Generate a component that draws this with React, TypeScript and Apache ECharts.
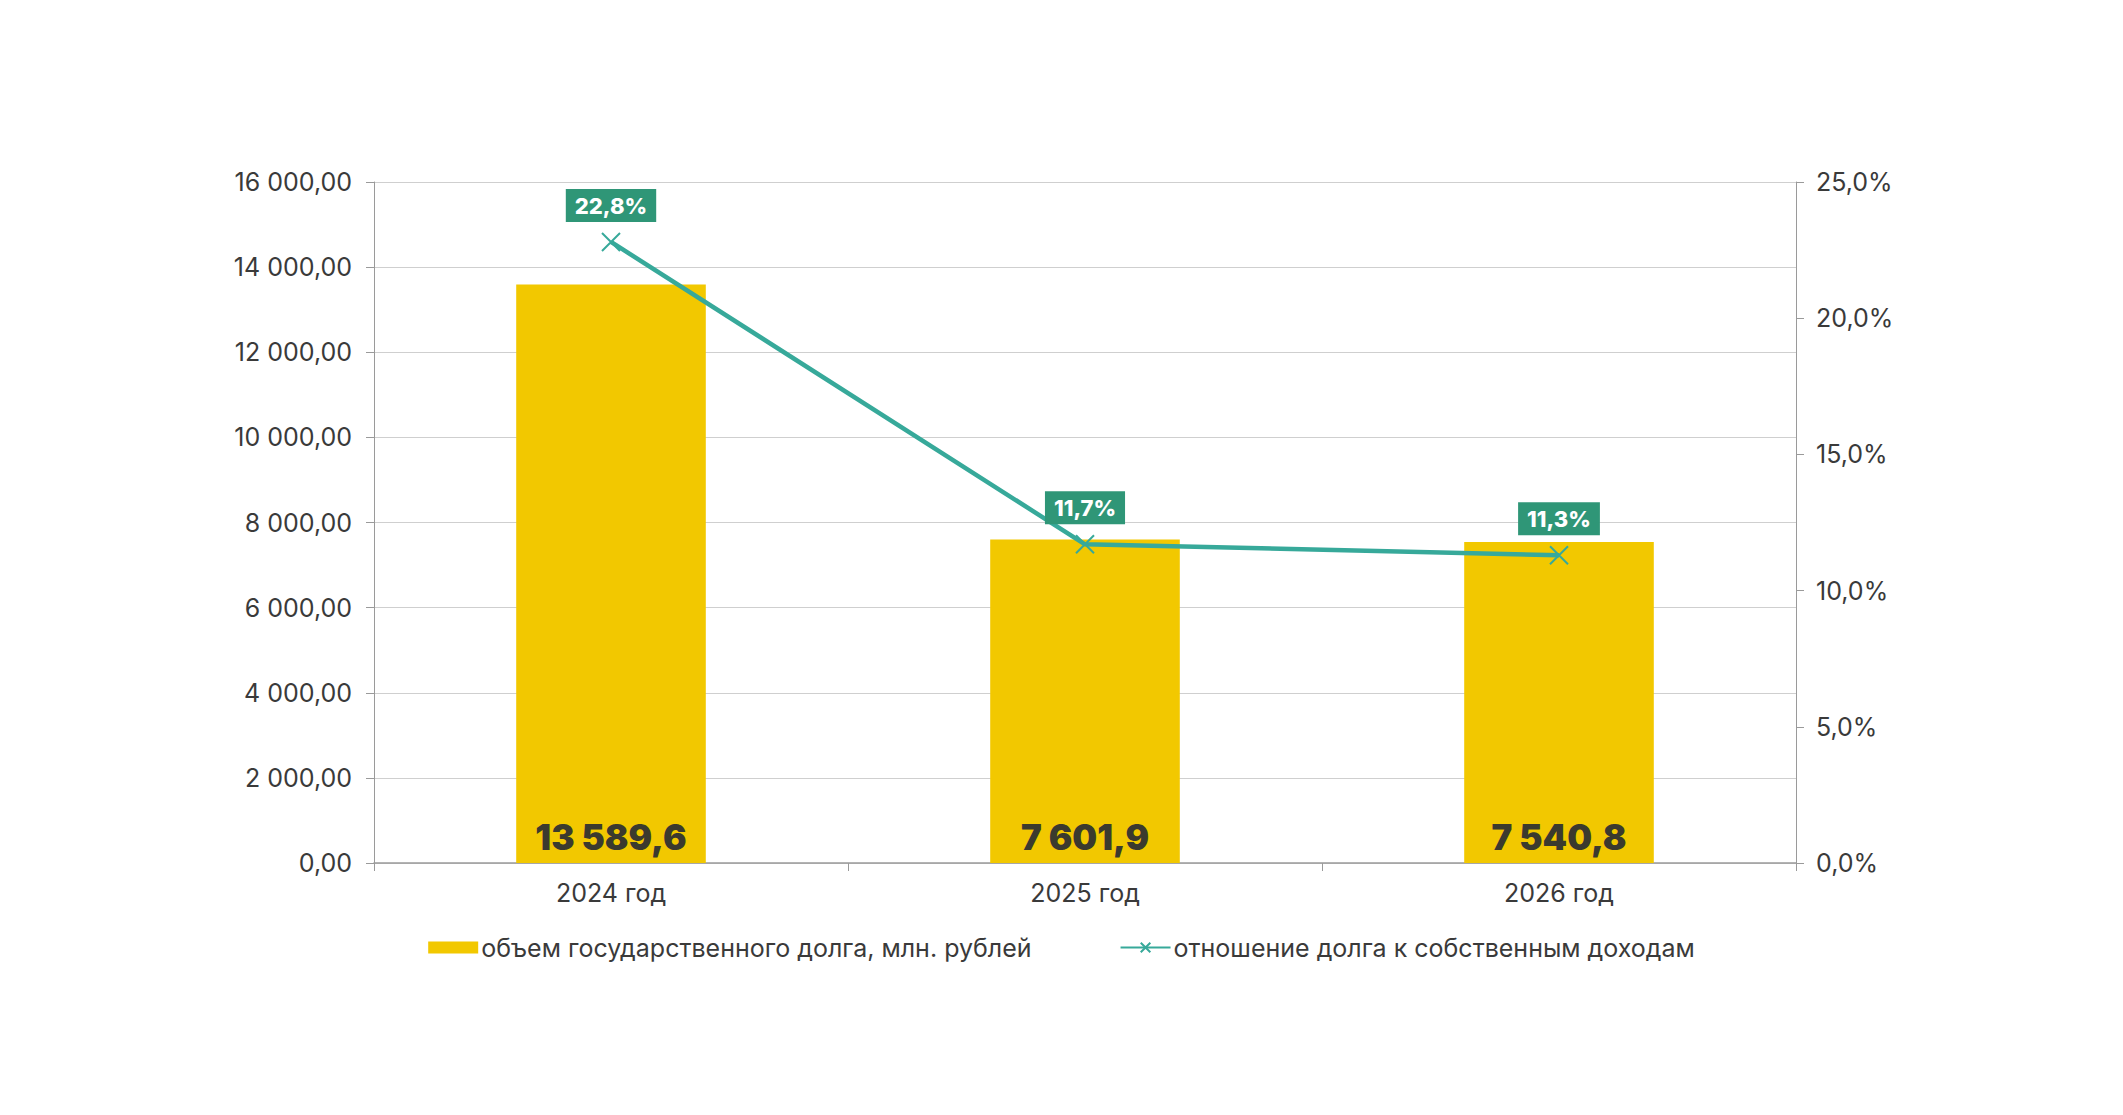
import React, { useEffect, useRef } from "react";
import * as echarts from "echarts";

const categories = ["2024 год", "2025 год", "2026 год"];
const debtValues = [13589.6, 7601.9, 7540.8];
const ratioValues = [22.8, 11.7, 11.3];

const debtName = "объем государственного долга, млн. рублей";
const ratioName = "отношение долга к собственным доходам";

const FONT = "Inter, 'Noto Sans', sans-serif";
const TEXT = "#3a3a3a";
const YELLOW = "#f2c800";
const TEAL = "#37a99a";
const LABEL_BG = "#2f9677";

// 13589.6 -> "13 589,6"
const fmt = (v: number, digits: number) => {
  const [i, d] = v.toFixed(digits).split(".");
  return i.replace(/\B(?=(\d{3})+(?!\d))/g, " ") + (d ? "," + d : "");
};

const crossSymbol = "path://M0,0L10,10M10,0L0,10";

const App = () => {
  const chartRef = useRef<HTMLDivElement>(null);

  useEffect(() => {
    if (!chartRef.current) return;
    const chart = echarts.init(chartRef.current, undefined, { renderer: "svg" });

    chart.setOption({
      animation: false,
      backgroundColor: "#ffffff",
      textStyle: { fontFamily: FONT },
      grid: { left: 374, right: 327, top: 182, bottom: 252, containLabel: false },
      legend: {
        left: "center",
        top: 930,
        itemWidth: 50,
        itemHeight: 12,
        itemGap: 88,
        textStyle: { fontFamily: FONT, fontSize: 25, color: TEXT, padding: [0, 0, 0, -2] },
        data: [
          { name: debtName, icon: "rect" },
          { name: ratioName },
        ],
      },
      xAxis: {
        type: "category",
        data: categories,
        axisLine: { lineStyle: { color: "#9a9a9a", width: 1.5 } },
        axisTick: { show: true, length: 8, lineStyle: { color: "#9a9a9a" } },
        axisLabel: { fontFamily: FONT, fontSize: 25, color: TEXT, margin: 17 },
      },
      yAxis: [
        {
          type: "value",
          min: 0,
          max: 16000,
          interval: 2000,
          axisLine: { show: true, lineStyle: { color: "#9a9a9a" } },
          axisTick: { show: true, length: 8, lineStyle: { color: "#9a9a9a" } },
          axisLabel: {
            fontFamily: FONT,
            fontSize: 25,
            color: TEXT,
            margin: 22,
            formatter: (v: number) => fmt(v, 2),
          },
          splitLine: { lineStyle: { color: "#cfcfcf" } },
        },
        {
          type: "value",
          position: "right",
          min: 0,
          max: 25,
          interval: 5,
          axisLine: { show: true, lineStyle: { color: "#9a9a9a" } },
          axisTick: { show: true, length: 8, lineStyle: { color: "#9a9a9a" } },
          axisLabel: {
            fontFamily: FONT,
            fontSize: 25,
            color: TEXT,
            margin: 20,
            formatter: (v: number) => fmt(v, 1) + "%",
          },
          splitLine: { show: false },
        },
      ],
      series: [
        {
          name: debtName,
          type: "bar",
          data: debtValues,
          barWidth: "40%",
          itemStyle: { color: YELLOW },
          label: {
            show: true,
            position: "insideBottom",
            distance: 9,
            fontFamily: FONT,
            fontSize: 35,
            fontWeight: 900,
            color: "#3b3a2e",
            formatter: (p: any) => fmt(p.value, 1),
          },
        },
        {
          name: ratioName,
          type: "line",
          yAxisIndex: 1,
          data: ratioValues,
          symbol: crossSymbol,
          symbolSize: 18,
          lineStyle: { color: TEAL, width: 4.5 },
          itemStyle: { color: "transparent", borderColor: TEAL, borderWidth: 2 },
          label: {
            show: true,
            position: "top",
            distance: 10,
            fontFamily: FONT,
            fontSize: 22,
            fontWeight: 800,
            color: "#ffffff",
            backgroundColor: LABEL_BG,
            padding: [6, 9, 5, 9],
            formatter: (p: any) => fmt(p.value, 1) + "%",
          },
          z: 5,
        },
      ],
    });

    return () => {
      chart.dispose();
    };
  }, []);

  return (
    <div
      ref={chartRef}
      style={{ position: "absolute", left: 0, top: 0, width: 2123, height: 1115, background: "#fff" }}
    />
  );
};

export default App;
